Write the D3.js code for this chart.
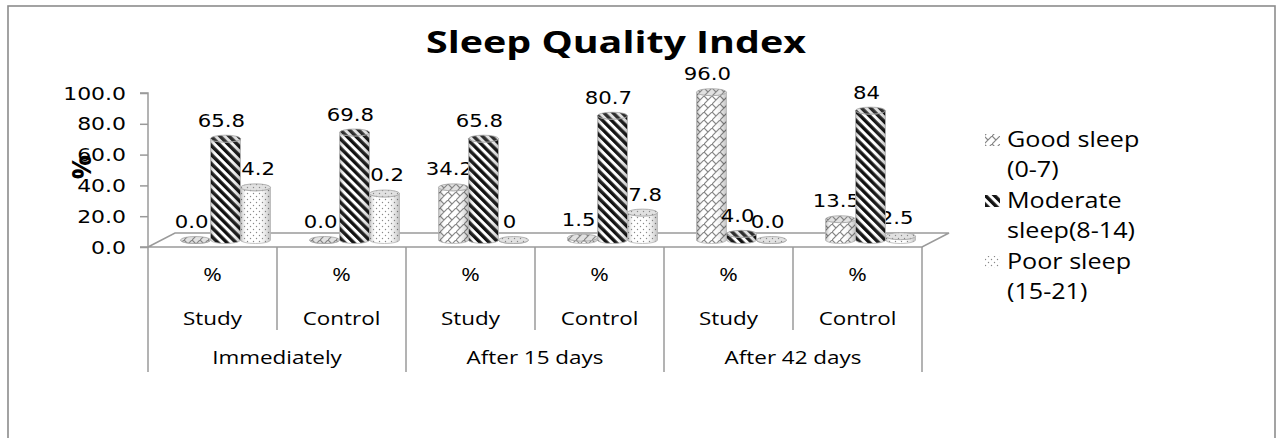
<!DOCTYPE html>
<html>
<head>
<meta charset="utf-8">
<script src="https://cdn.jsdelivr.net/npm/d3@7"></script>
<style>
  html, body { margin: 0; padding: 0; background: #fff; }
  svg { display: block; }
</style>
</head>
<body>
<div id="chart"></div>
<script>
// ---------------- DATA ----------------
const categories = ["Study", "Control", "Study", "Control", "Study", "Control"];
const unitLabels = ["%", "%", "%", "%", "%", "%"];
const groups = ["Immediately", "After 15 days", "After 42 days"];
const seriesNames = ["Good sleep (0-7)", "Moderate sleep(8-14)", "Poor sleep (15-21)"];
const legendLines = [["Good sleep", "(0-7)"], ["Moderate", "sleep(8-14)"], ["Poor sleep", "(15-21)"]];
const goodSleep = [0.0, 0.0, 34.2, 1.5, 96.0, 13.5];
const moderateSleep = [65.8, 69.8, 65.8, 80.7, 4.0, 84];
const poorSleep = [34.2, 30.2, 0, 17.8, 0.0, 2.5];
const goodLabels = ["0.0", "0.0", "34.2", "1.5", "96.0", "13.5"];
const moderateLabels = ["65.8", "69.8", "65.8", "80.7", "4.0", "84"];
const poorLabels = ["34.2", "30.2", "0", "17.8", "0.0", "2.5"];
const yTicks = [0, 20, 40, 60, 80, 100];
const chartTitle = "Sleep Quality Index";
const yTitle = "%";

// ---------------- LAYOUT ----------------
const W = 1276, H = 438;
const plotL = 148, plotR = 922, yBase = 247, yTop = 93;
const depthX = 27, depthY = -14;
const barDX = 13, barDY = -7;
const barW = 30, ry = 3.5;

const svg = d3.select("#chart").append("svg").attr("width", W).attr("height", H);
const defs = svg.append("defs");

// patterns
const pGood = defs.append("pattern").attr("id", "pGood").attr("patternUnits", "userSpaceOnUse")
  .attr("width", 8).attr("height", 8);
pGood.append("rect").attr("width", 8).attr("height", 8).attr("fill", "#fff");
pGood.append("path").attr("d", "M-1,9 L9,-1 M0,0 L4,4")
  .attr("stroke", "#858585").attr("stroke-width", 1.2).attr("fill", "none");

const pMod = defs.append("pattern").attr("id", "pMod").attr("patternUnits", "userSpaceOnUse")
  .attr("width", 6.4).attr("height", 6.4).attr("patternTransform", "rotate(-45)");
pMod.append("rect").attr("width", 6.4).attr("height", 6.4).attr("fill", "#fff");
pMod.append("rect").attr("width", 3.4).attr("height", 6.4).attr("fill", "#111");

const pPoor = defs.append("pattern").attr("id", "pPoor").attr("patternUnits", "userSpaceOnUse")
  .attr("width", 6).attr("height", 6);
pPoor.append("rect").attr("width", 6).attr("height", 6).attr("fill", "#fff");
pPoor.append("circle").attr("cx", 1.5).attr("cy", 1.5).attr("r", 0.7).attr("fill", "#888");
pPoor.append("circle").attr("cx", 4.5).attr("cy", 4.5).attr("r", 0.7).attr("fill", "#888");

const shade = defs.append("linearGradient").attr("id", "shade").attr("x1", 0).attr("x2", 1).attr("y1", 0).attr("y2", 0);
[[0, "#000", 0.28], [0.22, "#fff", 0.0], [0.55, "#fff", 0.0], [1, "#000", 0.25]].forEach(s =>
  shade.append("stop").attr("offset", s[0]).attr("stop-color", s[1]).attr("stop-opacity", s[2]));

const patIds = ["pGood", "pMod", "pPoor"];
const seriesVals = [goodSleep, moderateSleep, poorSleep];
const seriesLabs = [goodLabels, moderateLabels, poorLabels];

// frame
svg.append("rect").attr("x", 8).attr("y", 6).attr("width", 1267).attr("height", 460)
  .attr("fill", "none").attr("stroke", "#8c8c8c").attr("stroke-width", 1.6);

function text(g, x, y, str, opt) {
  opt = opt || {};
  return g.append("text")
    .attr("transform", `translate(${x},${y}) scale(${opt.sx || 1},1)`)
    .attr("text-anchor", opt.anchor || "middle")
    .attr("font-family", opt.font || "'Open Sans', sans-serif")
    .attr("font-size", opt.size || 16)
    .attr("font-weight", opt.weight || "normal")
    .attr("fill", opt.fill || "#000")
    .text(str);
}

// title
text(svg, 616, 53, chartTitle, { size: 31, weight: "bold", sx: 1.27 });

// scales
const y = d3.scaleLinear().domain([0, 100]).range([yBase, yTop]);
const x0 = d3.scaleBand().domain(d3.range(categories.length)).range([plotL, plotR]).padding(0);
const x1 = d3.scaleBand().domain(d3.range(seriesNames.length)).range([0, barW * 3]).padding(0);

// floor
const gridCol = "#9a9a9a";
svg.append("path")
  .attr("d", `M${plotL},${yBase} L${plotR},${yBase} L${plotR + depthX},${yBase + depthY} L${plotL + depthX},${yBase + depthY} Z`)
  .attr("fill", "#fff").attr("stroke", gridCol).attr("stroke-width", 1.5);

// y axis
const yAxis = d3.axisLeft(y).tickValues(yTicks).tickSize(8).tickFormat(d3.format(".1f"));
const ga = svg.append("g").attr("transform", `translate(${plotL},0)`).call(yAxis);
ga.select(".domain").attr("stroke", gridCol).attr("stroke-width", 1.5).attr("d", `M-8,${yTop}H0V${yBase}H-8`);
ga.selectAll(".tick line").attr("stroke", gridCol).attr("stroke-width", 1.5);
ga.selectAll(".tick text").remove();
yTicks.forEach(t => text(svg, plotL - 22, y(t) + 6.5, d3.format(".1f")(t),
  { anchor: "end", font: "'DejaVu Sans', sans-serif", size: 18, sx: 1.22 }));

// y title
svg.append("text").attr("transform", "translate(91,167) rotate(-90)")
  .attr("text-anchor", "middle").attr("font-family", "'Open Sans', sans-serif")
  .attr("font-size", 27).attr("font-weight", "bold").text(yTitle);

// category table
const tableTop = yBase;
categories.forEach((c, i) => {
  const xl = x0(i);
  const isGroupStart = i % 2 === 0;
  svg.append("line").attr("x1", xl).attr("x2", xl).attr("y1", tableTop)
    .attr("y2", isGroupStart ? 372 : 330).attr("stroke", gridCol).attr("stroke-width", 1.5);
  const cx = xl + x0.bandwidth() / 2;
  text(svg, cx, 281, unitLabels[i], { size: 19, sx: 1.18 });
  text(svg, cx, 325, c, { size: 19, sx: 1.18 });
});
svg.append("line").attr("x1", plotR).attr("x2", plotR).attr("y1", tableTop).attr("y2", 372)
  .attr("stroke", gridCol).attr("stroke-width", 1.5);
groups.forEach((gname, gi) => {
  const cx = x0(gi * 2) + x0.bandwidth();
  text(svg, cx, 364, gname, { size: 19, sx: 1.18 });
});

// bars
function cylPath(cx, rx, top, base) {
  return `M${cx - rx},${top} L${cx - rx},${base} A${rx},${ry} 0 0 0 ${cx + rx},${base} L${cx + rx},${top} A${rx},${ry} 0 0 1 ${cx - rx},${top} Z`;
}
const barsG = svg.append("g");
function barCx(s, i) {
  return x0(i) + x0.bandwidth() / 2 - barW * 1.5 + x1(s) + x1.bandwidth() / 2 + barDX;
}
function drawSeries(s) {
  seriesVals[s].forEach((v, i) => {
    const cx = barCx(s, i);
    const base = y(0) + barDY;
    const top = y(v) + barDY;
    const rx = barW / 2;
    const d = cylPath(cx, rx, top, base);
    barsG.append("path").attr("d", d).attr("fill", `url(#${patIds[s]})`);
    barsG.append("path").attr("d", d).attr("fill", "url(#shade)").attr("stroke", "#b5b5b5").attr("stroke-width", 0.8);
    barsG.append("ellipse").attr("cx", cx).attr("cy", top).attr("rx", rx).attr("ry", ry)
      .attr("fill", `url(#${patIds[s]})`).attr("stroke", "#aaa").attr("stroke-width", 0.8);
    barsG.append("ellipse").attr("cx", cx).attr("cy", top).attr("rx", rx).attr("ry", ry)
      .attr("fill", "#888").attr("fill-opacity", 0.25);
  });
}
function drawLabels(s) {
  seriesVals[s].forEach((v, i) => {
    const top = y(v) + barDY;
    text(barsG, barCx(s, i) - 4, top - 12, seriesLabs[s][i], { font: "'DejaVu Sans', sans-serif", size: 18, sx: 1.18 });
  });
}
drawSeries(0); drawLabels(0);
drawSeries(2); drawLabels(2);
drawSeries(1); drawLabels(1);

// legend
const lg = svg.append("g");
legendLines.forEach((lines, s) => {
  const ty = 147 + s * 61;
  lg.append("rect").attr("x", 985).attr("y", ty - 13).attr("width", 15).attr("height", 12)
    .attr("fill", `url(#${patIds[s]})`);
  lines.forEach((ln, k) => text(lg, 1007, ty + k * 30, ln, { anchor: "start", size: 21.5, sx: 1.17 }));
});
</script>
</body>
</html>
